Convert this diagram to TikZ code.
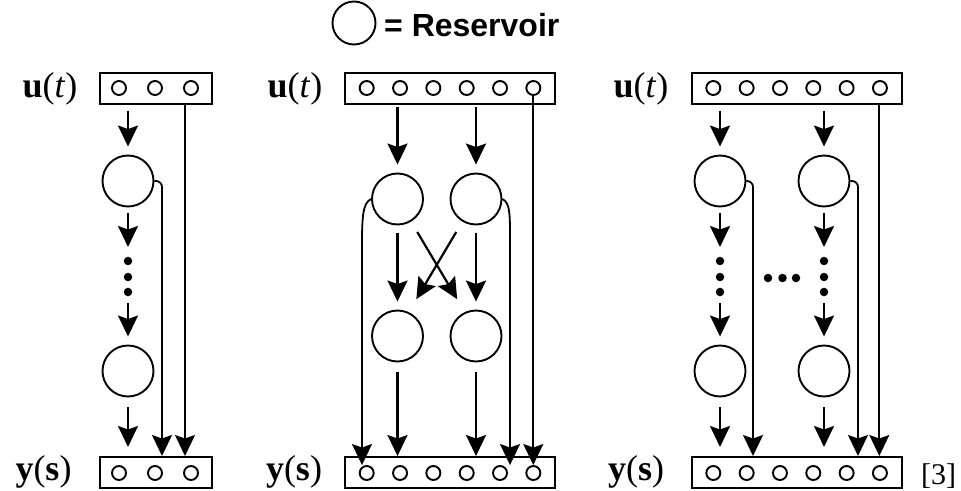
\documentclass[tikz,border=0pt]{standalone}
\usepackage{fontspec}
\setmainfont{Liberation Serif}
\newfontfamily\lsans{Liberation Sans}
\usetikzlibrary{arrows.meta}
\begin{document}
\begin{tikzpicture}[x=1pt,y=-1pt,
  arr/.style={line width=2.2pt,-{Stealth[length=21pt,width=20pt,inset=3.5pt]}},
  thin arr/.style={line width=1.8pt,-{Stealth[length=21pt,width=20pt,inset=3.5pt]}},
  res/.style={circle,draw,line width=1.9pt,minimum size=51pt,inner sep=0pt},
  ubox/.style={rectangle,draw,line width=2pt,minimum height=31pt,inner sep=0pt},
  unit/.style={circle,draw,line width=1.9pt,minimum size=14pt,inner sep=0pt},
  lab/.style={font=\fontsize{36}{40}\selectfont,inner sep=0pt,anchor=base},
  dot/.style={circle,fill,minimum size=8.5pt,inner sep=0pt}
]
\useasboundingbox (0,0) rectangle (961,490);

% legend
\node[res,minimum size=43pt] (leg) at (354,23) {};
\node[font=\lsans\bfseries\fontsize{32}{36}\selectfont,anchor=base west,inner sep=0pt] (legt) at (384,36) {= Reservoir};

% ================= Panel 1 =================
\node[ubox,minimum width=112pt] (ub1) at (156,88) {};
\node[ubox,minimum width=112pt] (yb1) at (156,472.5) {};
\foreach \i/\x in {1/119,2/155,3/191}{
  \node[unit] (ua\i) at (\x,88) {};
  \node[unit] (ya\i) at (\x,473) {};
}
\node[lab] (ul1) at (50,97) {{\bfseries u}(\textit{t})};
\node[lab] (yl1) at (43.5,480) {{\bfseries y}({\bfseries s})};
\node[res] (c11) at (128,181) {};
\node[res] (c12) at (128,371) {};
\coordinate (d1t) at (128,247);
\coordinate (d1b) at (128,303);
\foreach \y in {261,277,292} \node[dot] at (128,\y) {};
\draw[arr,shorten <=6pt,shorten >=8pt] (ub1.south -| c11) -- (c11);
\draw[arr,shorten <=6pt] (c11) -- (d1t);
\draw[arr,shorten >=8pt] (d1b) -- (c12);
\draw[arr,shorten <=10pt,shorten >=9pt] (c12) -- (yb1.north -| c12);
\draw[thin arr,rounded corners=6pt] (c11.east) -| (yb1.north -| 162,0);
\draw[thin arr] (ub1.south -| 185,0) -- (yb1.north -| 185,0);

% ================= Panel 2 =================
\node[ubox,minimum width=210pt] (ub2) at (450,88) {};
\node[ubox,minimum width=210pt] (yb2) at (450,472.5) {};
\foreach \i in {0,...,5}{
  \node[unit] (ub\i) at (366.7+33.33*\i,88) {};
  \node[unit] (yb\i) at (366.7+33.33*\i,473) {};
}
\node[lab] (ul2) at (295,97) {{\bfseries u}(\textit{t})};
\node[lab] (yl2) at (294,480) {{\bfseries y}({\bfseries s})};
\node[res] (c21) at (397.5,199) {};
\node[res] (c22) at (476,199) {};
\node[res] (c23) at (397.5,336) {};
\node[res] (c24) at (476,336) {};
\draw[arr,shorten <=11pt,shorten >=8pt] (ub2.south -| c21) -- (c21);
\draw[arr,shorten <=11pt,shorten >=8pt] (ub2.south -| c22) -- (c22);
\draw[arr,shorten <=8pt,shorten >=8pt] (c21) -- (c23);
\draw[arr,shorten <=8pt,shorten >=8pt] (c22) -- (c24);
\draw[arr,shorten <=12pt,shorten >=15pt] (c21.-59) -- (c24.115);
\draw[arr,shorten <=12pt,shorten >=15pt] (c22.-121) -- (c23.65);
\draw[arr,shorten <=10pt,shorten >=9pt] (c23) -- (yb2.north -| c23);
\draw[arr,shorten <=10pt,shorten >=9pt] (c24) -- (yb2.north -| c24);
\coordinate (l2a) at (362,245);
\coordinate (l2b) at (510,245);
\draw[thin arr] (c21.west) .. controls +(-8,4) and +(0,-30) .. (l2a) -- (yb2.north -| l2a);
\draw[thin arr] (c22.east) .. controls +(8,4) and +(0,-30) .. (l2b) -- (yb2.north -| l2b);
\draw[thin arr] (ub2.south -| 533.3,0) -- (yb2.north -| 533.3,0);

% ================= Panel 3 =================
\node[ubox,minimum width=210pt] (ub3) at (797,88) {};
\node[ubox,minimum width=210pt] (yb3) at (797,472.5) {};
\foreach \i in {0,...,5}{
  \node[unit] (uc\i) at (713.3+33.33*\i,88) {};
  \node[unit] (yc\i) at (713.3+33.33*\i,473) {};
}
\node[lab] (ul3) at (641,97) {{\bfseries u}(\textit{t})};
\node[lab] (yl3) at (636,480) {{\bfseries y}({\bfseries s})};
\node[res] (c31) at (720,181) {};
\node[res] (c32) at (824,181) {};
\node[res] (c33) at (720,371) {};
\node[res] (c34) at (824,371) {};
\coordinate (d3t) at (720,247);
\coordinate (d3b) at (720,303);
\coordinate (d4t) at (824,247);
\coordinate (d4b) at (824,303);
\foreach \y in {261,277,292}{
  \node[dot] at (720,\y) {};
  \node[dot] at (824,\y) {};
}
\foreach \x in {768,782.5,796} \node[dot] at (\x,278) {};
\draw[arr,shorten <=6pt,shorten >=8pt] (ub3.south -| c31) -- (c31);
\draw[arr,shorten <=6pt,shorten >=8pt] (ub3.south -| c32) -- (c32);
\draw[arr,shorten <=6pt] (c31) -- (d3t);
\draw[arr,shorten <=6pt] (c32) -- (d4t);
\draw[arr,shorten >=8pt] (d3b) -- (c33);
\draw[arr,shorten >=8pt] (d4b) -- (c34);
\draw[arr,shorten <=10pt,shorten >=9pt] (c33) -- (yb3.north -| c33);
\draw[arr,shorten <=10pt,shorten >=9pt] (c34) -- (yb3.north -| c34);
\draw[thin arr,rounded corners=6pt] (c31.east) -| (yb3.north -| 753,0);
\draw[thin arr,rounded corners=6pt] (c32.east) -| (yb3.north -| 858,0);
\draw[thin arr] (ub3.south -| 879.3,0) -- (yb3.north -| 879.3,0);

\node[font=\fontsize{30}{34}\selectfont,anchor=base west,inner sep=0pt] (ref) at (921,484) {[3]};
\end{tikzpicture}
\end{document}
